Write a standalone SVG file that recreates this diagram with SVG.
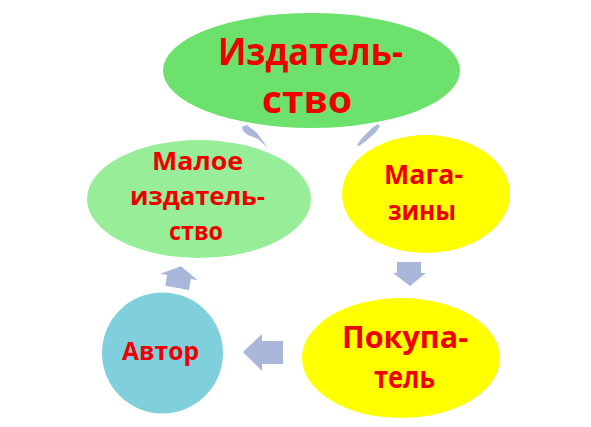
<svg xmlns="http://www.w3.org/2000/svg" width="591" height="427" viewBox="0 0 591 427">
<style>
  .lbl { font-family: "Open Sans", "Liberation Sans", sans-serif; font-weight: bold; fill: #EE0000; text-anchor: middle; }
  .arr { fill: #A9B8DA; stroke: none; }
</style>
<rect width="591" height="427" fill="#FFFFFF"/>
<g id="connectors">
  <path class="arr" d="M242,127 L247,125 L257,133 L268,148 L258,139 L248,135 L243,131 Z"/>
  <path class="arr" d="M357,145 L362,138 L372,128 L378,124 L380,126 L376,132 L366,141 L359,146 Z"/>
  <path class="arr" d="M397,262 L421,262 L421,273 L426,273 L410,286 L393,273 L397,273 Z"/>
  <path class="arr" d="M243,352 L262,334 L262,341 L283,341 L283,364 L262,364 L262,371 Z"/>
  <path class="arr" transform="rotate(10 179 277)" d="M179,266 L198,277 L191,277 L191,288 L167,288 L167,277 L160,277 Z"/>
</g>
<g id="node-izdatelstvo">
  <ellipse cx="311.5" cy="70.5" rx="148.5" ry="57.5" fill="#6CE26C"/>
  <text class="lbl" x="310.5" y="65" font-size="38" textLength="185" lengthAdjust="spacingAndGlyphs">Издатель-</text>
  <text class="lbl" x="307" y="113" font-size="38" textLength="90" lengthAdjust="spacingAndGlyphs">ство</text>
</g>
<g id="node-maloe">
  <ellipse cx="199" cy="199" rx="112" ry="59" fill="#98EE98"/>
  <text class="lbl" x="197.5" y="170" font-size="25" textLength="91" lengthAdjust="spacingAndGlyphs">Малое</text>
  <text class="lbl" x="197.5" y="205" font-size="25" textLength="135" lengthAdjust="spacingAndGlyphs">издатель-</text>
  <text class="lbl" x="196" y="240" font-size="25" textLength="54" lengthAdjust="spacingAndGlyphs">ство</text>
</g>
<g id="node-magaziny">
  <ellipse cx="426" cy="194" rx="84" ry="59" fill="#FFFF00"/>
  <text class="lbl" x="423.5" y="184" font-size="27" textLength="79" lengthAdjust="spacingAndGlyphs">Мага-</text>
  <text class="lbl" x="422" y="220" font-size="27" textLength="68" lengthAdjust="spacingAndGlyphs">зины</text>
</g>
<g id="node-pokupatel">
  <ellipse cx="401" cy="358" rx="99" ry="60" fill="#FFFF00"/>
  <text class="lbl" x="405" y="348" font-size="31" textLength="126" lengthAdjust="spacingAndGlyphs">Покупа-</text>
  <text class="lbl" x="404.5" y="388" font-size="31" textLength="61" lengthAdjust="spacingAndGlyphs">тель</text>
</g>
<g id="node-avtor">
  <circle cx="162.5" cy="353" r="60.5" fill="#7FD0DC"/>
  <text class="lbl" x="160.5" y="360" font-size="25" textLength="77" lengthAdjust="spacingAndGlyphs">Автор</text>
</g>
</svg>
